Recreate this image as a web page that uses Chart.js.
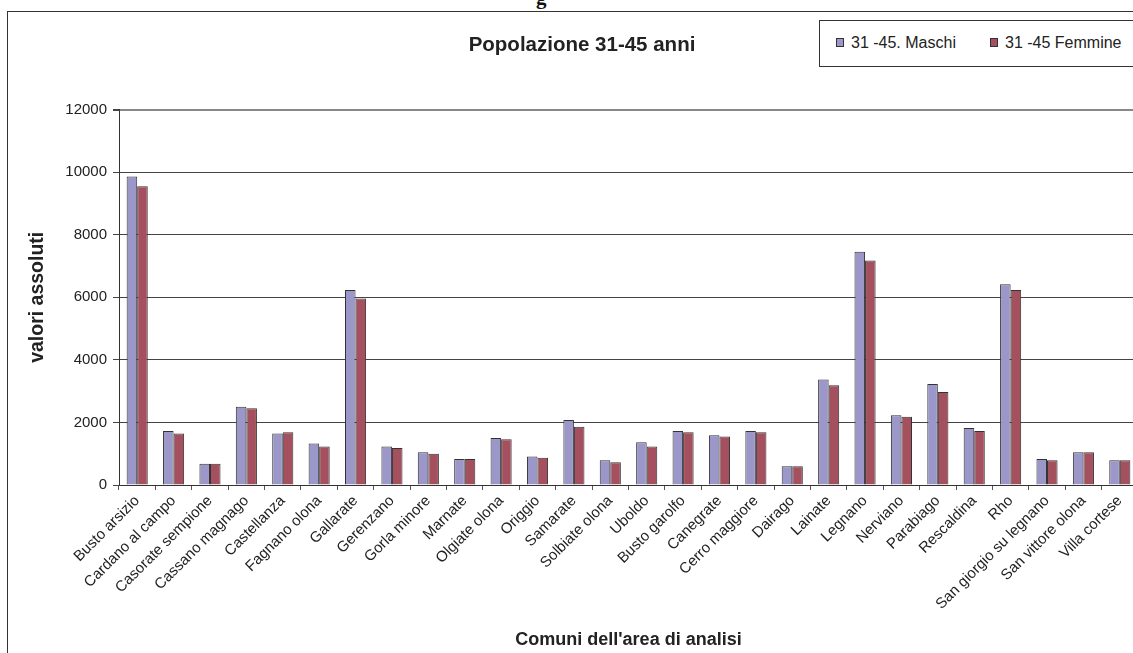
<!DOCTYPE html>
<html>
<head>
<meta charset="utf-8">
<script src="https://cdn.jsdelivr.net/npm/chart.js@4.4.1/dist/chart.umd.min.js"></script>
<style>
  html, body { margin: 0; padding: 0; background: #fff; }
  body { width: 1133px; height: 653px; overflow: hidden; position: relative; font-family: "Liberation Sans", Arial, sans-serif; }
  #head { position: absolute; left: 536px; top: -15px; font: bold 21px "Liberation Serif", serif; color: #111; }
  #frame { position: absolute; left: 7px; top: 11px; width: 1200px; height: 700px; border: 1px solid #333; box-sizing: border-box; }
  #chart { position: absolute; left: 0; top: 0; }
  #legend { position: absolute; left: 819px; top: 20px; width: 330px; height: 47px; border: 1px solid #333; box-sizing: border-box; background: #fff; }
  #legend .item { position: absolute; top: 12px; font-size: 16px; color: #222; white-space: nowrap; line-height: 20px; }
  #legend .sw { display: inline-block; width: 6px; height: 7px; border: 1px solid #333; margin-right: 7px; vertical-align: 1px; }
</style>
</head>
<body>
<div id="head">g</div>
<div id="frame"></div>
<canvas id="chart" width="1138" height="653"></canvas>
<div id="legend">
  <span class="item" style="left:16px"><span class="sw" style="background:#9c97c9"></span>31 -45. Maschi</span>
  <span class="item" style="left:170px"><span class="sw" style="background:#a5505f"></span>31 -45 Femmine</span>
</div>
<script>
const comuni = ['Busto arsizio','Cardano al campo','Casorate sempione','Cassano magnago','Castellanza',
  'Fagnano olona','Gallarate','Gerenzano','Gorla minore','Marnate','Olgiate olona','Origgio','Samarate',
  'Solbiate olona','Uboldo','Busto garolfo','Canegrate','Cerro maggiore','Dairago','Lainate','Legnano',
  'Nerviano','Parabiago','Rescaldina','Rho','San giorgio su legnano','San vittore olona','Villa cortese']

const maschi = [9860, 1730, 680, 2500, 1650, 1330, 6230, 1230, 1050, 830, 1500, 910, 2080,
  790, 1370, 1730, 1590, 1730, 600, 3370, 7460, 2230, 3230, 1820, 6420, 830, 1050, 790]

const femmine = [9550, 1650, 680, 2450, 1690, 1230, 5960, 1180, 1000, 830, 1460, 870, 1860,
  730, 1230, 1690, 1550, 1690, 600, 3190, 7180, 2180, 2970, 1730, 6230, 790, 1050, 790]

const yTicks = [0, 2000, 4000, 6000, 8000, 10000, 12000]

const font = 'Liberation Sans'

const chart = new Chart(document.getElementById('chart'), {
  type: 'bar',
  data: {
    labels: comuni,
    datasets: [{
      label: '31 -45. Maschi',
      data: maschi,
      backgroundColor: '#9c97c9',
      borderColor: '#333',
      borderWidth: 1
    }, {
      label: '31 -45 Femmine',
      data: femmine,
      backgroundColor: '#a5505f',
      borderColor: '#333',
      borderWidth: 1
    }]
  },
  options: {
    responsive: false,
    animation: false,
    layout: { padding: { left: 26, right: 0, top: 0, bottom: 0 } },
    datasets: { bar: { barPercentage: 1, categoryPercentage: 0.58 } },
    plugins: {
      legend: { display: false },
      tooltip: { enabled: false },
      title: {
        display: true,
        text: 'Popolazione 31-45 anni',
        color: '#222',
        font: { family: font, size: 20.5, weight: 'bold' },
        padding: { top: 33, bottom: 52 }
      }
    },
    scales: {
      x: {
        afterFit: s => { s.height = 168; s.paddingLeft = 0; s.paddingRight = 0 },
        border: { color: '#333' },
        grid: { drawOnChartArea: false, drawTicks: true, tickLength: 5, color: '#555', offset: true },
        ticks: {
          autoSkip: false, minRotation: 45, maxRotation: 45, padding: 2,
          color: '#222', font: { family: font, size: 15 }
        },
        title: {
          display: true,
          text: "Comuni dell'area di analisi",
          color: '#222',
          font: { family: font, size: 18, weight: 'bold' },
          padding: { top: 0, bottom: 2 }
        }
      },
      y: {
        min: 0,
        max: 12000,
        afterFit: s => { s.width = 93 },
        afterBuildTicks: s => { s.ticks = yTicks.map(v => ({ value: v })) },
        border: { color: '#333' },
        grid: {
          color: c => c.tick && c.tick.value === 12000 ? '#8c8787' : '#444',
          lineWidth: c => c.tick && c.tick.value === 12000 ? 2 : 1,
          tickColor: '#444',
          tickLength: 6
        },
        ticks: {
          padding: 6, color: '#222', font: { family: font, size: 15 },
          callback: v => String(v)
        },
        title: {
          display: true,
          text: 'valori assoluti',
          color: '#222',
          font: { family: font, size: 19.5, weight: 'bold' },
          padding: { top: 0, bottom: 0 }
        }
      }
    }
  }
})
</script>
</body>
</html>
